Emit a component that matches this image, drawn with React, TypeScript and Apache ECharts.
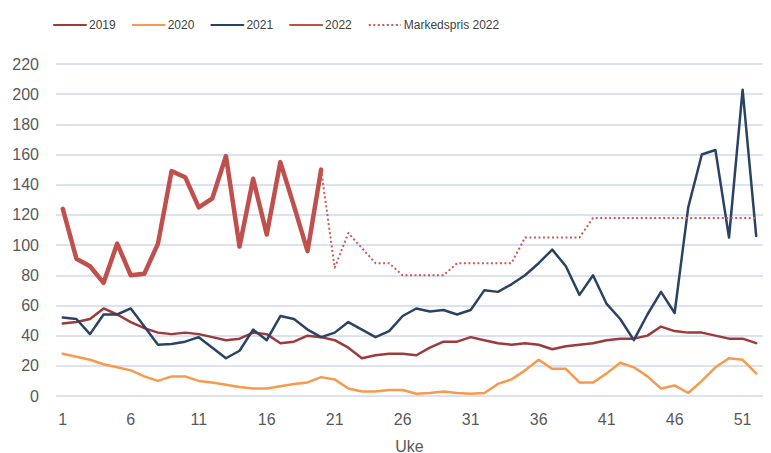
import React, { useEffect, useRef } from "react";
import * as echarts from "echarts";

const weeks: string[] = Array.from({ length: 52 }, (_, i) => String(i + 1));

const y2019 = [48, 49, 51, 58, 54, 49, 45, 42, 41, 42, 41, 39, 37, 38, 42, 41, 35, 36, 40, 39, 37, 32, 25, 27, 28, 28, 27, 32, 36, 36, 39, 37, 35, 34, 35, 34, 31, 33, 34, 35, 37, 38, 38, 40, 46, 43, 42, 42, 40, 38, 38, 35];
const y2020 = [28, 26, 24, 21, 19, 17, 13, 10, 13, 13, 10, 9, 7.5, 6, 5, 5, 6.5, 8, 9, 12.5, 11, 5, 3, 3, 4, 4, 1.5, 2, 3, 2, 1.5, 2, 8, 11, 17, 24, 18, 18, 9, 9, 15, 22, 19, 13, 5, 7, 2, 10, 19, 25, 24, 15];
const y2021 = [52, 51, 41, 54, 54, 58, 46, 34, 34.5, 36, 39, 32, 25, 30, 44, 37, 53, 51, 44, 39, 42, 49, 44, 39, 43, 53, 58, 56, 57, 54, 57, 70, 69, 74, 80, 88, 97, 86, 67, 80, 61, 51, 37, 54, 69, 55, 125, 160, 163, 105, 203, 106];
const y2022 = [124, 91, 86, 75, 101, 80, 81, 101, 149, 145, 125, 131, 159, 99, 144, 107, 155, 126, 96, 150];
const markedspris2022Tail = [150, 85, 108, 98, 88, 88, 80, 80, 80, 80, 88, 88, 88, 88, 88, 105, 105, 105, 105, 105, 118, 118, 118, 118, 118, 118, 118, 118, 118, 118, 118, 118, 118];
const markedsprisStartWeek = 20;

const yTicks = { min: 0, max: 220, interval: 20 };

export default function App() {
  const ref = useRef<HTMLDivElement>(null);
  useEffect(() => {
    if (!ref.current) return;
    const chart = echarts.init(ref.current, undefined, { renderer: "svg" });
    const pad = (arr: number[], start: number) => {
      const out: (number | null)[] = [];
      for (let i = 0; i < 52; i++) {
        const j = i - (start - 1);
        out.push(j >= 0 && j < arr.length ? arr[j] : null);
      }
      return out;
    };
    const font = "Liberation Sans";
    const lineSeries = (name: string, data: (number | null)[], color: string, width: number, type: any = "solid", cap = "round") => ({
      name,
      type: "line",
      data,
      symbol: "none",
      showSymbol: false,
      connectNulls: false,
      itemStyle: { color },
      lineStyle: { color, width, type, cap, join: "round" },
    });
    chart.setOption({
      animation: false,
      textStyle: { fontFamily: font },
      legend: {
        left: 48,
        top: 14,
        itemWidth: 32,
        itemHeight: 8,
        itemGap: 16,
        itemStyle: { opacity: 0 },
        textStyle: { fontFamily: font, fontSize: 12, color: "#404040", padding: [0, 0, 0, -2] },
        data: ["2019", "2020", "2021", "2022", "Markedspris 2022"],
      },
      grid: { left: 56, right: 8, top: 64, bottom: 57, outerBoundsMode: "none", containLabel: false },
      xAxis: {
        type: "category",
        data: weeks,
        boundaryGap: true,
        name: "Uke",
        nameLocation: "middle",
        nameGap: 42,
        nameTextStyle: { fontFamily: font, fontSize: 16, color: "#595959" },
        axisLine: { show: false },
        axisTick: { show: false },
        axisLabel: { interval: 4, margin: 15, fontFamily: font, fontSize: 16, color: "#595959" },
        splitLine: { show: false },
      },
      yAxis: {
        type: "value",
        min: yTicks.min,
        max: yTicks.max,
        interval: yTicks.interval,
        axisLine: { show: false },
        axisTick: { show: false },
        axisLabel: { margin: 17, fontFamily: font, fontSize: 16, color: "#595959" },
        splitLine: { lineStyle: { color: "#d0d8ee", width: 1.5 } },
      },
      series: [
        lineSeries("2019", y2019, "#9b3b3a", 2.5),
        lineSeries("2020", y2020, "#f79a4b", 2.5),
        lineSeries("2021", y2021, "#2b4363", 2.5),
        lineSeries("2022", pad(y2022, 1), "#c0504d", 4.5),
        lineSeries("Markedspris 2022", pad(markedspris2022Tail, markedsprisStartWeek), "#c85a57", 2, [2, 2.5], "butt"),
      ],
    });
    return () => chart.dispose();
  }, []);
  return <div ref={ref} style={{ position: "fixed", left: 0, top: 0, width: 771, height: 453, background: "#fff" }} />;
}
